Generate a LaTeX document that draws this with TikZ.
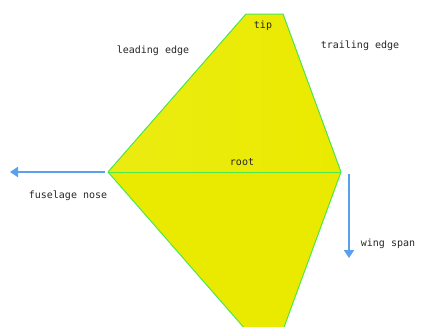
\documentclass[tikz,border=0pt]{standalone}
\usepackage{fontspec}
\setmonofont{DejaVu Sans Mono}
\usepackage{tikz}
\usetikzlibrary{arrows.meta}

\definecolor{wingfill}{HTML}{EAEA00}
\definecolor{wingedge}{HTML}{4CE84C}
\definecolor{axisblue}{HTML}{5AA0EE}

\tikzset{
    lbl/.style={font=\ttfamily\fontsize{10}{11}\selectfont, text=black!85},
    axisarrow/.style={draw=axisblue, line width=2.2pt, -{Triangle[length=8pt,width=10pt]}}
}

\begin{document}
\begin{tikzpicture}[x=1pt,y=-1pt]
\useasboundingbox (0,0) rectangle (421,327);

% Corners of the planform (pixel grid, y downwards)
\coordinate (nose) at (108,172);
\coordinate (rootTE) at (341,172);
\coordinate (tipLE) at (246,14);
\coordinate (tipTE) at (283,14);
\coordinate (lowLE) at (246,330);
\coordinate (lowTE) at (283,330);

% Upper wing half
\fill[left color=wingfill!93!white, right color=wingfill] (nose) -- (tipLE) -- (tipTE) -- (rootTE) -- cycle;
\draw[wingedge, line width=1pt] (nose) -- (tipLE) -- (tipTE) -- (rootTE);

% Lower wing half (mirror image)
\fill[wingfill] (nose) -- (lowLE) -- (lowTE) -- (rootTE) -- cycle;
\draw[wingedge, line width=1pt] (nose) -- (lowLE) -- (lowTE) -- (rootTE);

% Root chord
\draw[wingedge, line width=1pt] (nose) -- (rootTE);

% Axis arrows
\coordinate (fwd) at (10,172);
\coordinate (span) at (349,258);
\draw[axisarrow] (105,172) -- (fwd);
\draw[axisarrow] (349,174) -- (span);

% Labels
\node[lbl] (tip) at (263,26) {tip};
\node[lbl] (le) at (153,51) {leading edge};
\node[lbl] (te) at (360,46) {trailing edge};
\node[lbl] (root) at (242,162) {root};
\node[lbl] (nosel) at (68,196) {fuselage nose};
\node[lbl] (spanl) at (388,244) {wing span};

\end{tikzpicture}
\end{document}
